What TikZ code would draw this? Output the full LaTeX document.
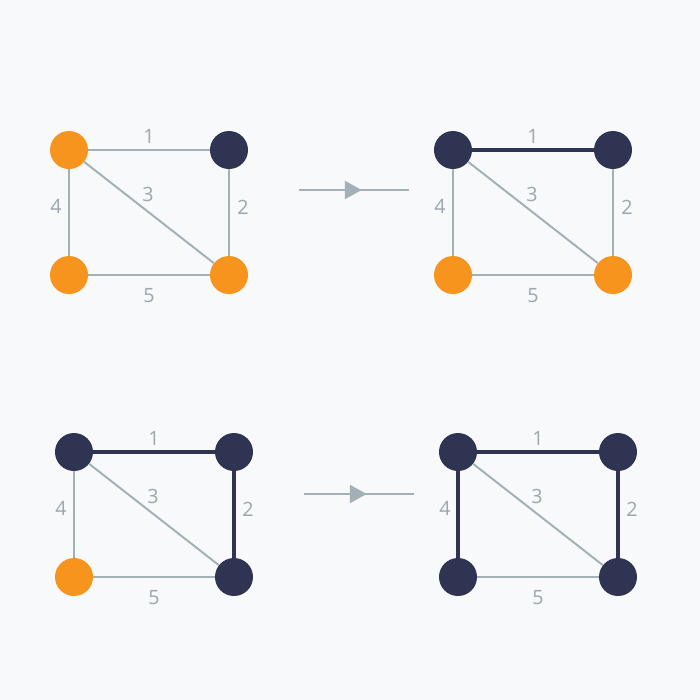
\documentclass[tikz,border=0pt]{standalone}
\usepackage{fontspec}
\setmainfont{Open Sans}
\usetikzlibrary{arrows.meta, decorations.markings}

\definecolor{bgcol}{HTML}{F7F9FA}
\definecolor{navy}{HTML}{2F3452}
\definecolor{orng}{HTML}{F7941E}
\definecolor{edgegray}{HTML}{A3B1B7}
\definecolor{labgray}{HTML}{9AA7AD}

\begin{document}
\begin{tikzpicture}[x=0.025cm, y=-0.025cm,
    vtx/.style={circle, minimum size=0.95cm, inner sep=0pt},
    done/.style={vtx, fill=navy},
    todo/.style={vtx, fill=orng},
    edge/.style={draw=edgegray, line width=1.4pt},
    picked/.style={draw=navy, line width=2.8pt},
    wt/.style={text=labgray, font=\fontsize{14}{17}\selectfont, inner sep=0pt},
    stepline/.style={draw=edgegray, line width=1.4pt, postaction={decorate},
        decoration={markings, mark=at position 0.57 with
        {\arrow[edgegray]{Triangle[length=0.42cm, width=0.45cm]}}}}]

% background
\fill[bgcol] (0,0) rectangle (700,700);

% Graph 1: only one vertex visited
\begin{scope}
    \node[todo] (g1a) at (69,150) {};
    \node[done] (g1b) at (229,150) {};
    \node[todo] (g1c) at (69,275) {};
    \node[todo] (g1d) at (229,275) {};
    \draw[edge] (g1a) -- (g1b);
    \draw[edge] (g1b) -- (g1d);
    \draw[edge] (g1a) -- (g1d);
    \draw[edge] (g1a) -- (g1c);
    \draw[edge] (g1c) -- (g1d);
    \node[wt] (g1w1) at (149,136) {1};
    \node[wt] (g1w2) at (243,207) {2};
    \node[wt] (g1w3) at (148,194) {3};
    \node[wt] (g1w4) at (56,206) {4};
    \node[wt] (g1w5) at (149,296) {5};
\end{scope}

% Step arrow 1
\coordinate (s1a) at (299,190);
\coordinate (s1b) at (409,190);
\draw[stepline] (s1a) -- (s1b);

% Graph 2: edge 1 picked
\begin{scope}[shift={(384,0)}]
    \node[done] (g2a) at (69,150) {};
    \node[done] (g2b) at (229,150) {};
    \node[todo] (g2c) at (69,275) {};
    \node[todo] (g2d) at (229,275) {};
    \draw[picked] (g2a) -- (g2b);
    \draw[edge] (g2b) -- (g2d);
    \draw[edge] (g2a) -- (g2d);
    \draw[edge] (g2a) -- (g2c);
    \draw[edge] (g2c) -- (g2d);
    \node[wt] (g2w1) at (149,136) {1};
    \node[wt] (g2w2) at (243,207) {2};
    \node[wt] (g2w3) at (148,194) {3};
    \node[wt] (g2w4) at (56,206) {4};
    \node[wt] (g2w5) at (149,296) {5};
\end{scope}

% Graph 3: edges 1 and 2 picked
\begin{scope}[shift={(5,302)}]
    \node[done] (g3a) at (69,150) {};
    \node[done] (g3b) at (229,150) {};
    \node[todo] (g3c) at (69,275) {};
    \node[done] (g3d) at (229,275) {};
    \draw[picked] (g3a) -- (g3b);
    \draw[picked] (g3b) -- (g3d);
    \draw[edge] (g3a) -- (g3d);
    \draw[edge] (g3a) -- (g3c);
    \draw[edge] (g3c) -- (g3d);
    \node[wt] (g3w1) at (149,136) {1};
    \node[wt] (g3w2) at (243,207) {2};
    \node[wt] (g3w3) at (148,194) {3};
    \node[wt] (g3w4) at (56,206) {4};
    \node[wt] (g3w5) at (149,296) {5};
\end{scope}

% Step arrow 2
\coordinate (s2a) at (304,494);
\coordinate (s2b) at (414,494);
\draw[stepline] (s2a) -- (s2b);

% Graph 4: spanning tree done
\begin{scope}[shift={(389,302)}]
    \node[done] (g4a) at (69,150) {};
    \node[done] (g4b) at (229,150) {};
    \node[done] (g4c) at (69,275) {};
    \node[done] (g4d) at (229,275) {};
    \draw[picked] (g4a) -- (g4b);
    \draw[picked] (g4b) -- (g4d);
    \draw[edge] (g4a) -- (g4d);
    \draw[picked] (g4a) -- (g4c);
    \draw[edge] (g4c) -- (g4d);
    \node[wt] (g4w1) at (149,136) {1};
    \node[wt] (g4w2) at (243,207) {2};
    \node[wt] (g4w3) at (148,194) {3};
    \node[wt] (g4w4) at (56,206) {4};
    \node[wt] (g4w5) at (149,296) {5};
\end{scope}

\end{tikzpicture}
\end{document}
